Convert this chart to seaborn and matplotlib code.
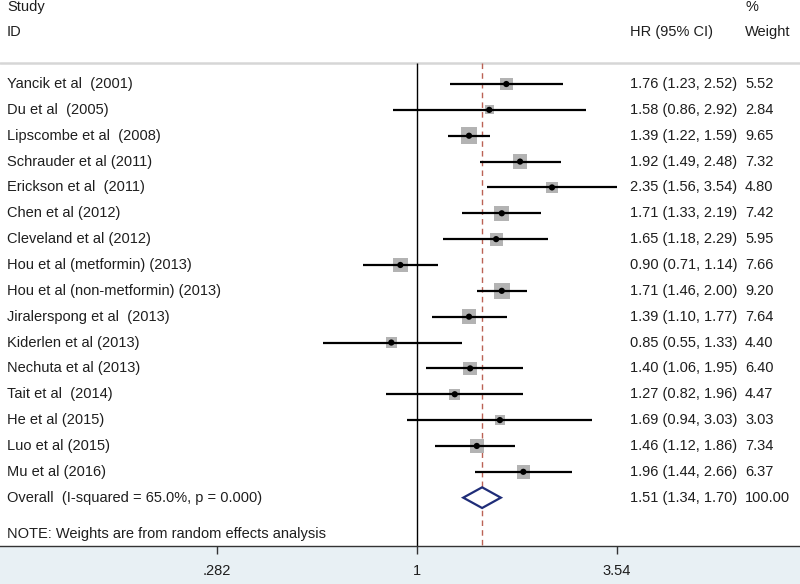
import numpy as np
import pandas as pd
import matplotlib
matplotlib.use("Agg")
import matplotlib.pyplot as plt
import matplotlib.transforms as mtransforms
from matplotlib.ticker import NullLocator
import seaborn as sns

# study data
studies = [
    "Yancik et al  (2001)", "Du et al  (2005)", "Lipscombe et al  (2008)",
    "Schrauder et al (2011)", "Erickson et al  (2011)", "Chen et al (2012)",
    "Cleveland et al (2012)", "Hou et al (metformin) (2013)",
    "Hou et al (non-metformin) (2013)", "Jiralerspong et al  (2013)",
    "Kiderlen et al (2013)", "Nechuta et al (2013)", "Tait et al  (2014)",
    "He et al (2015)", "Luo et al (2015)", "Mu et al (2016)",
]
hr = [1.76, 1.58, 1.39, 1.92, 2.35, 1.71, 1.65, 0.90, 1.71, 1.39, 0.85, 1.40, 1.27, 1.69, 1.46, 1.96]
lower = [1.23, 0.86, 1.22, 1.49, 1.56, 1.33, 1.18, 0.71, 1.46, 1.10, 0.55, 1.06, 0.82, 0.94, 1.12, 1.44]
upper = [2.52, 2.92, 1.59, 2.48, 3.54, 2.19, 2.29, 1.14, 2.00, 1.77, 1.33, 1.95, 1.96, 3.03, 1.86, 2.66]
weight = [5.52, 2.84, 9.65, 7.32, 4.80, 7.42, 5.95, 7.66, 9.20, 7.64, 4.40, 6.40, 4.47, 3.03, 7.34, 6.37]

overall_label = "Overall  (I-squared = 65.0%, p = 0.000)"
overall_hr, overall_lo, overall_hi, overall_w = 1.51, 1.34, 1.70, 100.00
note = "NOTE: Weights are from random effects analysis"
xticks = [0.282, 1, 3.54]
xtick_labels = [".282", "1", "3.54"]

df = pd.DataFrame({"study": studies, "hr": hr, "lo": lower, "hi": upper, "w": weight})
df["row"] = np.arange(len(df))
overall_row = len(df)

sns.set_style("white")
plt.rcParams["font.family"] = ["Liberation Sans", "DejaVu Sans"]
txt_color = "#1e1e1e"
fs = 10.5

fig = plt.figure(figsize=(8, 5.84), dpi=100)
fig.patch.set_facecolor("#e8f0f4")
ax = fig.add_axes([0, 38 / 584, 1, 546 / 584])
ax.set_facecolor("white")

ax.set_xscale("log")
ax.set_xlim(np.exp(-417 / 158), np.exp(383 / 158))
ax.set_ylim(17.87, -3.25)

# header separator and reference lines
ax.axhline(-0.81, color="#d6d6d6", lw=1.8)
ax.vlines(1, -0.81, 17.87, color="black", lw=1.0)
ax.vlines(overall_hr, -0.81, 17.87, color="#bb6255", lw=1.0, linestyles=(0, (4, 3)))

# confidence intervals
ax.hlines(df["row"], df["lo"], df["hi"], color="black", lw=1.6, zorder=3)

# weight boxes (area proportional to weight)
sns.scatterplot(data=df, x="hr", y="row", size="w", sizes=(0, 150), size_norm=(0, 10),
                marker="s", color="#b3b3b3", edgecolor="none", legend=False, ax=ax, zorder=2)
sns.scatterplot(data=df, x="hr", y="row", s=20, color="black", edgecolor="none",
                legend=False, ax=ax, zorder=4)

# pooled diamond
ax.fill([overall_lo, overall_hr, overall_hi, overall_hr],
        [overall_row, overall_row - 0.4, overall_row, overall_row + 0.4],
        facecolor="white", edgecolor="#1f2d78", lw=1.6, zorder=4)

# text columns
trans = mtransforms.blended_transform_factory(ax.transAxes, ax.transData)
x_study, x_ci, x_w = 7 / 800, 630 / 800, 745 / 800
ax.text(x_study, -2.98, "Study", transform=trans, va="center", fontsize=fs, color=txt_color)
ax.text(x_study, -2.01, "ID", transform=trans, va="center", fontsize=fs, color=txt_color)
ax.text(x_ci, -2.01, "HR (95% CI)", transform=trans, va="center", fontsize=fs, color=txt_color)
ax.text(x_w, -2.98, "%", transform=trans, va="center", fontsize=fs, color=txt_color)
ax.text(x_w, -2.01, "Weight", transform=trans, va="center", fontsize=fs, color=txt_color)

for _, r in df.iterrows():
    ax.text(x_study, r["row"], r["study"], transform=trans, va="center", fontsize=fs, color=txt_color)
    ax.text(x_ci, r["row"], f"{r['hr']:.2f} ({r['lo']:.2f}, {r['hi']:.2f})",
            transform=trans, va="center", fontsize=fs, color=txt_color)
    ax.text(x_w, r["row"], f"{r['w']:.2f}", transform=trans, va="center", fontsize=fs, color=txt_color)

ax.text(x_study, overall_row, overall_label, transform=trans, va="center", fontsize=fs, color=txt_color)
ax.text(x_ci, overall_row, f"{overall_hr:.2f} ({overall_lo:.2f}, {overall_hi:.2f})",
        transform=trans, va="center", fontsize=fs, color=txt_color)
ax.text(x_w, overall_row, f"{overall_w:.2f}", transform=trans, va="center", fontsize=fs, color=txt_color)
ax.text(x_study, 17.4, note, transform=trans, va="center", fontsize=fs, color=txt_color)

# axis styling
for side in ["top", "left", "right"]:
    ax.spines[side].set_visible(False)
ax.spines["bottom"].set_color("#333333")
ax.spines["bottom"].set_linewidth(1.0)
ax.set_yticks([])
ax.set_xticks(xticks)
ax.set_xticklabels(xtick_labels)
ax.xaxis.set_minor_locator(NullLocator())
ax.tick_params(axis="x", direction="out", length=6, width=1, color="#333333",
               labelsize=fs, labelcolor=txt_color, pad=7, bottom=True)
ax.set_xlabel("")
ax.set_ylabel("")

fig.savefig("out.png", dpi=100, facecolor=fig.get_facecolor())
